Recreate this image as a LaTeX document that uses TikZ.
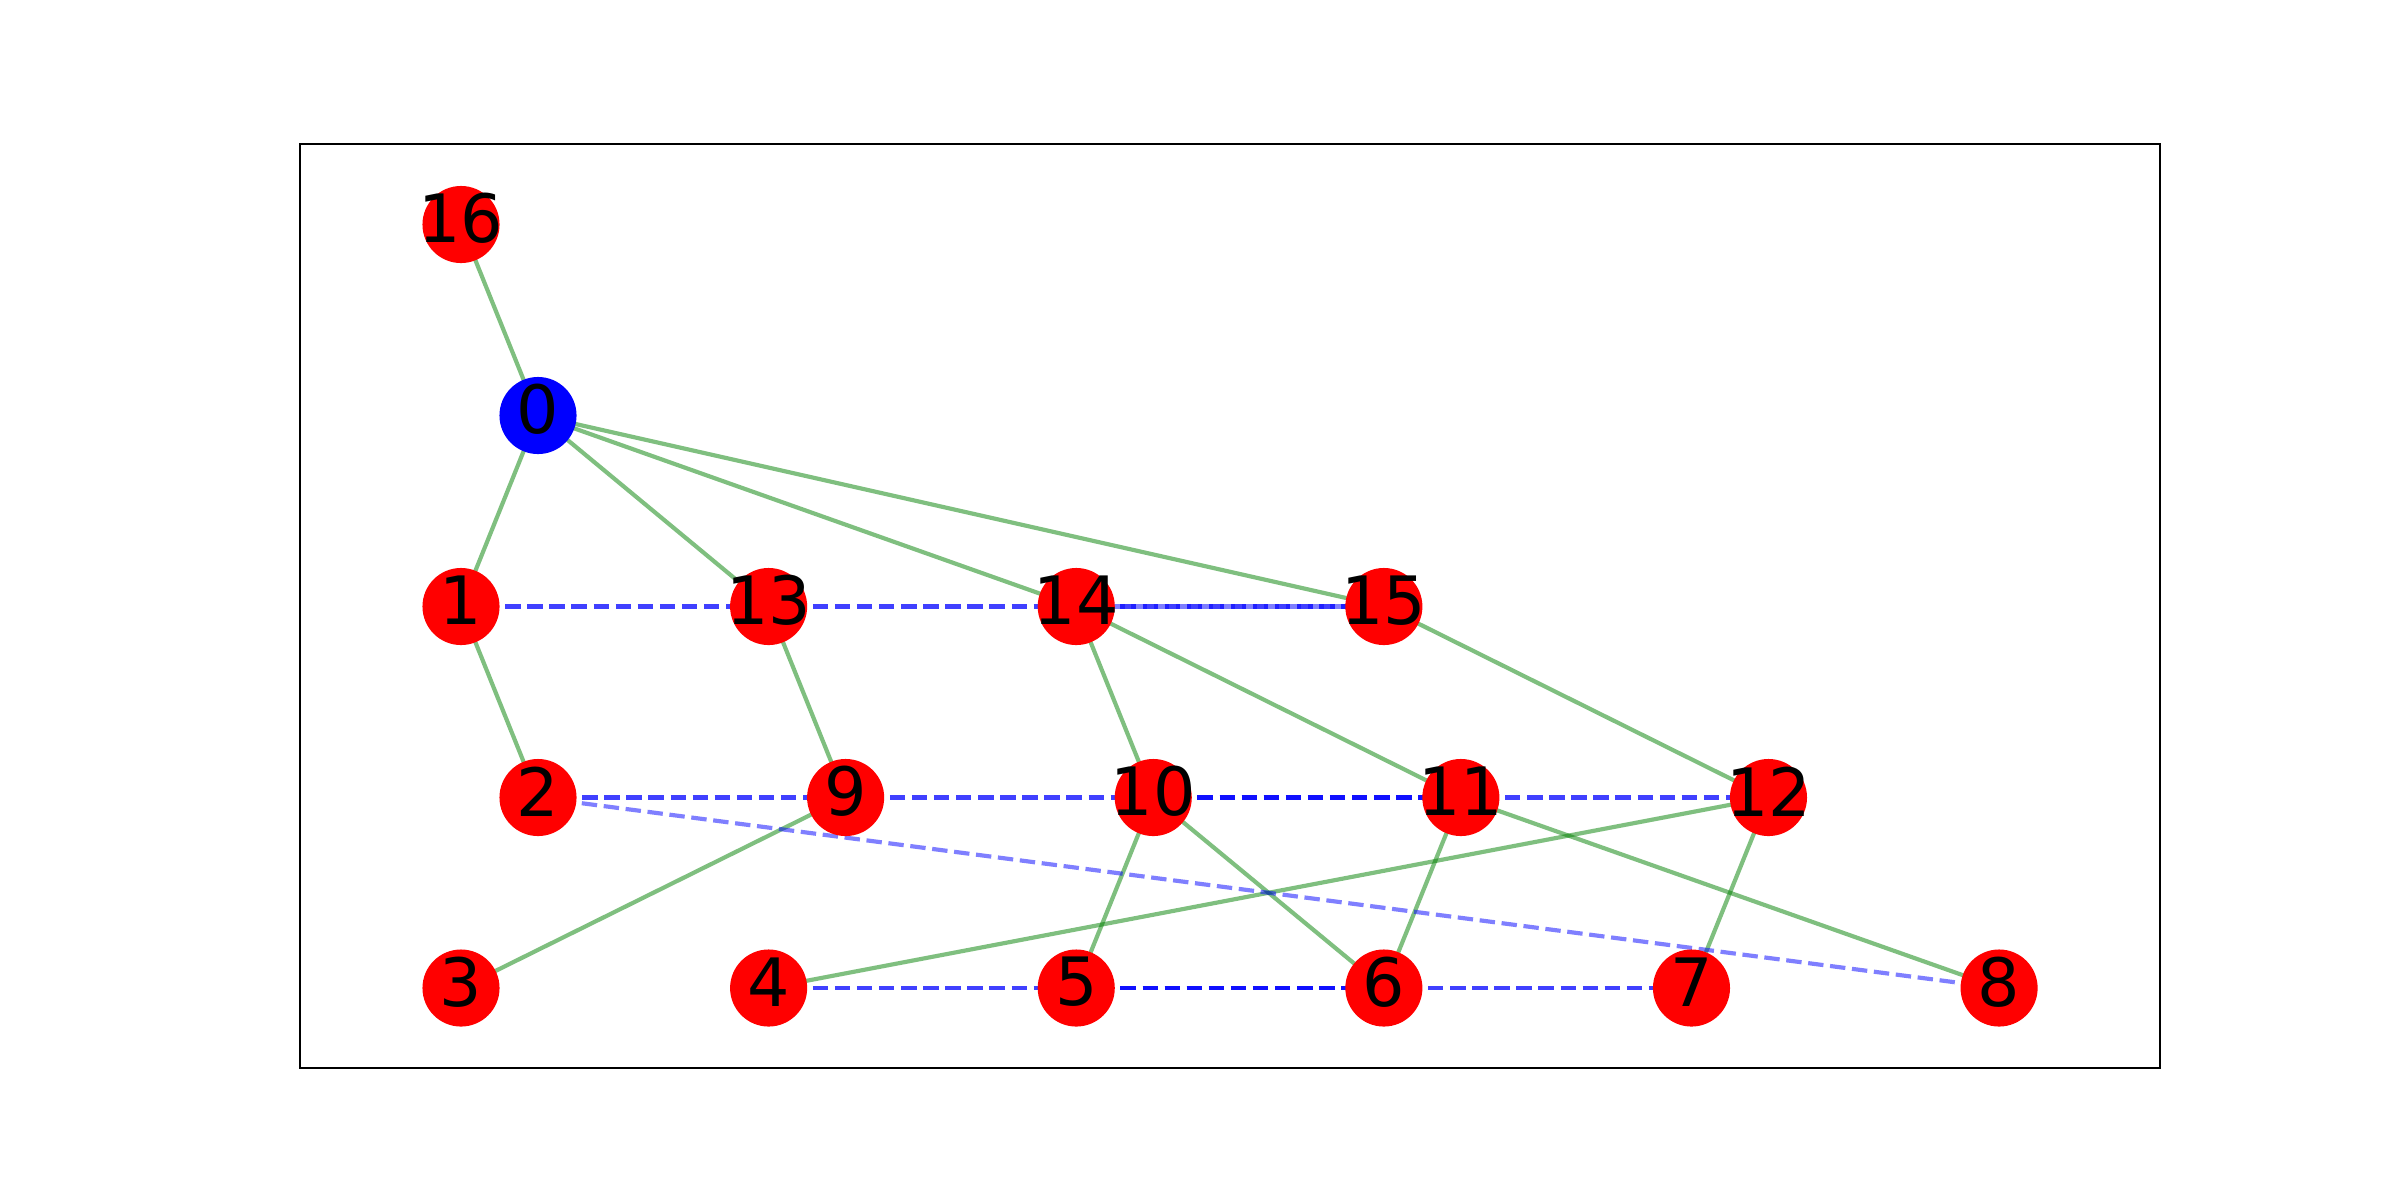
\documentclass[tikz,border=0pt]{standalone}
\usepackage{fontspec}
\setmainfont{DejaVu Sans}
\usetikzlibrary{positioning,backgrounds}

\definecolor{bondgreen}{rgb}{0,0.5,0}

\begin{document}
\begin{tikzpicture}[
    x=0.48bp, y=-0.48bp,
    node distance=110.65bp,
    vertex/.style={circle, fill=red, minimum size=37bp, inner sep=0pt, outer sep=0pt},
    root/.style={vertex, fill=blue},
    every label/.style={font=\fontsize{32bp}{38bp}\selectfont, text=black, inner sep=0pt, yshift=2.9bp},
    bond/.style={draw=bondgreen, draw opacity=0.5, line width=2bp},
    link/.style={draw=blue, draw opacity=0.75, line width=2bp, dash pattern=on 7.4bp off 3.2bp},
    farlink/.style={link, draw opacity=0.5}
]
\useasboundingbox (0,0) rectangle (2400,1200);
\draw[line width=0.8bp] (300,144) rectangle (2160,1068);

% Top nodes
\node[vertex, label=center:16] (n16) at (461,224.5) {};
\node[root, label=center:0] (n0) at (538,415.5) {};

% Row 1
\node[vertex, label=center:1] (n1) at (461,606.5) {};
\node[vertex, label=center:13, right=of n1] (n13) {};
\node[vertex, label=center:14, right=of n13] (n14) {};
\node[vertex, label=center:15, right=of n14] (n15) {};

% Row 2
\node[vertex, label=center:2] (n2) at (538,797.5) {};
\node[vertex, label=center:9, right=of n2] (n9) {};
\node[vertex, label=center:10, right=of n9] (n10) {};
\node[vertex, label=center:11, right=of n10] (n11) {};
\node[vertex, label=center:12, right=of n11] (n12) {};

% Row 3
\node[vertex, label=center:3] (n3) at (461,988) {};
\node[vertex, label=center:4, right=of n3] (n4) {};
\node[vertex, label=center:5, right=of n4] (n5) {};
\node[vertex, label=center:6, right=of n5] (n6) {};
\node[vertex, label=center:7, right=of n6] (n7) {};
\node[vertex, label=center:8, right=of n7] (n8) {};

\begin{scope}[on background layer]
% Green connections
\draw[bond] (n16.center) -- (n0.center);
\draw[bond] (n0.center) -- (n1.center);
\draw[bond] (n0.center) -- (n13.center);
\draw[bond] (n0.center) -- (n14.center);
\draw[bond] (n0.center) -- (n15.center);
\draw[bond] (n1.center) -- (n2.center);
\draw[bond] (n13.center) -- (n9.center);
\draw[bond] (n14.center) -- (n10.center);
\draw[bond] (n14.center) -- (n11.center);
\draw[bond] (n15.center) -- (n12.center);
\draw[bond] (n9.center) -- (n3.center);
\draw[bond] (n12.center) -- (n4.center);
\draw[bond] (n10.center) -- (n5.center);
\draw[bond] (n10.center) -- (n6.center);
\draw[bond] (n11.center) -- (n6.center);
\draw[bond] (n11.center) -- (n8.center);
\draw[bond] (n12.center) -- (n7.center);

% Blue dashed connections
\draw[link] (n1.center) -- (n13.center);
\draw[link] (n13.center) -- (n14.center);
\draw[link] (n14.center) -- (n15.center);
\draw[farlink, dash phase=5.3bp] (n14.center) -- (n15.center);
\draw[link] (n2.center) -- (n9.center);
\draw[link] (n9.center) -- (n10.center);
\draw[link] (n10.center) -- (n11.center);
\draw[link] (n10.center) -- (n11.center);
\draw[link] (n11.center) -- (n12.center);
\draw[link] (n4.center) -- (n5.center);
\draw[link] (n5.center) -- (n6.center);
\draw[link] (n5.center) -- (n6.center);
\draw[link] (n6.center) -- (n7.center);
\draw[farlink] (n2.center) -- (n8.center);
\end{scope}

\end{tikzpicture}
\end{document}
